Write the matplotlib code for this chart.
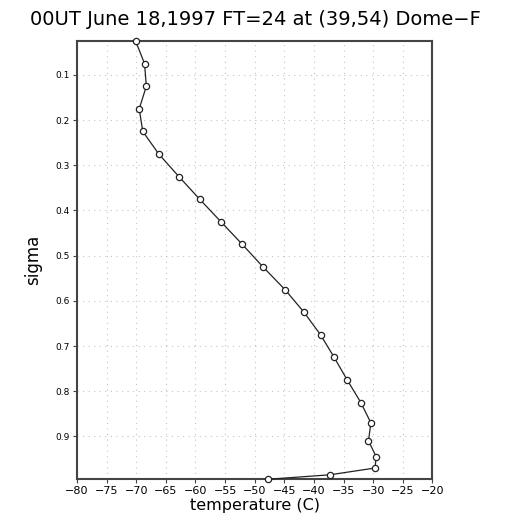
import matplotlib
matplotlib.use('Agg')
from matplotlib import pyplot as plt

# sigma levels and temperature (C)
sigma = [0.025, 0.075, 0.125, 0.175, 0.225, 0.275, 0.325, 0.375, 0.425, 0.475,
         0.525, 0.575, 0.625, 0.675, 0.725, 0.775, 0.825, 0.87, 0.91, 0.945,
         0.97, 0.985, 0.995]
temp = [-70.1, -68.6, -68.3, -69.5, -68.9, -66.2, -62.8, -59.3, -55.7, -52.1,
        -48.6, -44.9, -41.7, -38.9, -36.6, -34.4, -32.1, -30.4, -30.8, -29.5,
        -29.7, -37.3, -47.8]

xticks = list(range(-80, -19, 5))
yticks = [0.1, 0.2, 0.3, 0.4, 0.5, 0.6, 0.7, 0.8, 0.9]

fig = plt.figure(figsize=(5.1, 5.18), dpi=100)
ax = fig.add_axes([0.151, 0.0747, 0.697, 0.846])

ax.plot(temp, sigma, color='#222222', linewidth=0.9, marker='o', markersize=4.5,
        markerfacecolor='white', markeredgecolor='#222222', markeredgewidth=0.9,
        clip_on=False, zorder=3)

ax.set_xlim(-80, -20)
ax.set_ylim(0.995, 0.025)
ax.set_xticks(xticks)
ax.set_xticklabels([str(t).replace('-', '\u2212') for t in xticks], fontsize=8)
ax.set_yticks(yticks)
ax.set_yticklabels([str(t) for t in yticks], fontsize=6.5)
ax.tick_params(axis='both', length=3, width=0.8, color='#444444', pad=2)

ax.grid(True, linestyle=(0, (1, 4)), color='#c4c4c4', linewidth=0.8)
for s in ax.spines.values():
    s.set_linewidth(1.5)
    s.set_color('#444444')

ax.set_xlabel('temperature (C)', fontsize=11.5, labelpad=1)
ax.set_ylabel('sigma', fontsize=12, labelpad=10)
fig.text(0.5, 0.963, '00UT June 18,1997 FT=24 at (39,54) Dome\u2212F',
         ha='center', va='center', fontsize=14, color='black')

plt.savefig('out.png', dpi=100)
